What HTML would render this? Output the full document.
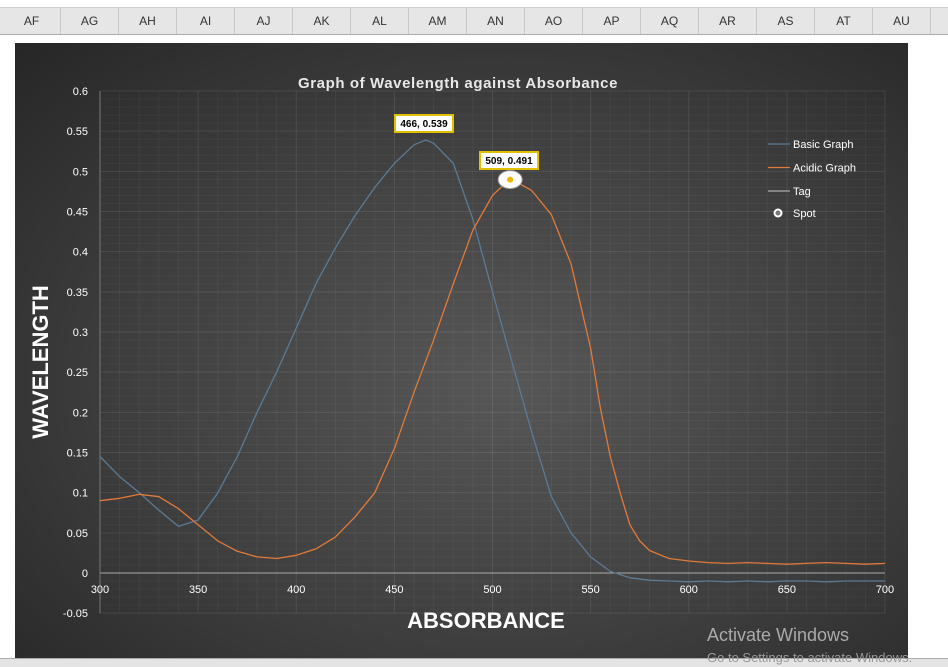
<!DOCTYPE html>
<html><head><meta charset="utf-8"><style>
body{margin:0;width:948px;height:666px;overflow:hidden;background:#fff;font-family:"Liberation Sans",sans-serif;position:relative}
.hdr{position:absolute;left:0;top:7px;width:948px;height:26px;background:#e6e6e6;border-top:1px solid #d0d0d0;border-bottom:1px solid #ababab}
.col{position:absolute;top:0;height:26px;line-height:26px;text-align:center;font-size:12px;color:#333;border-right:1px solid #c8c8c8}
.chart{position:absolute;left:15px;top:43px;width:893px;height:615px;background:radial-gradient(ellipse at 55% 55%,#575757 0%,#3e3e3e 55%,#262626 100%)}
.bot{position:absolute;left:0;top:658px;width:948px;height:8px;background:#e4e4e4;border-top:1px solid #aaa}
</style></head><body>
<div class="hdr" id="hdr"></div>
<div class="chart"></div>
<div class="bot"></div>
<svg width="948" height="666" style="position:absolute;left:0;top:0" id="svg"></svg>
<script>
const cols=["AF","AG","AH","AI","AJ","AK","AL","AM","AN","AO","AP","AQ","AR","AS","AT","AU"];
const xTicks=[300,350,400,450,500,550,600,650,700];
const yTicks=[-0.05,0,0.05,0.1,0.15,0.2,0.25,0.3,0.35,0.4,0.45,0.5,0.55,0.6];
const wl=[300,310,320,330,340,350,360,370,380,390,400,410,420,430,440,450,460,466,470,480,490,500,510,520,530,540,550,560,570,580,590,600,610,620,630,640,650,660,670,680,690,700];
const basic=[0.145,0.12,0.1,0.078,0.058,0.066,0.1,0.145,0.2,0.25,0.305,0.36,0.405,0.445,0.48,0.51,0.533,0.539,0.535,0.51,0.44,0.35,0.262,0.175,0.095,0.05,0.02,0.002,-0.006,-0.009,-0.01,-0.011,-0.01,-0.011,-0.01,-0.011,-0.01,-0.01,-0.011,-0.01,-0.01,-0.01];
const awl=[300,310,320,330,340,350,360,370,380,390,400,410,420,430,440,450,460,470,480,490,500,509,520,530,540,550,555,560,565,570,575,580,590,600,610,620,630,640,650,660,670,680,690,700];
const acidic=[0.09,0.093,0.098,0.095,0.08,0.06,0.04,0.027,0.02,0.018,0.022,0.03,0.045,0.07,0.1,0.155,0.225,0.29,0.36,0.427,0.47,0.491,0.476,0.446,0.385,0.28,0.205,0.145,0.1,0.06,0.04,0.028,0.018,0.015,0.013,0.012,0.013,0.012,0.011,0.012,0.013,0.012,0.011,0.012];
const X=v=>100+(v-300)*785/400;
const Y=v=>573-v*803.3;
const hdr=document.getElementById('hdr');
cols.forEach((c,i)=>{const d=document.createElement('div');d.className='col';d.style.left=(3+i*58)+'px';d.style.width='57px';d.textContent=c;


hdr.appendChild(d);});
const svg=document.getElementById('svg');const NS='http://www.w3.org/2000/svg';
function el(t,a,txt){const e=document.createElementNS(NS,t);for(const k in a)e.setAttribute(k,a[k]);if(txt!=null)e.textContent=txt;svg.appendChild(e);return e;}
for(let v=300;v<=700;v+=10){const g=el('line',{x1:X(v),x2:X(v),y1:Y(0.6),y2:Y(-0.05),stroke:'#fff','stroke-opacity':v%50==0?0.09:0.045});}
for(let i=-5;i<=60;i++){const v=i/100;const g=el('line',{x1:X(300),x2:X(700),y1:Y(v),y2:Y(v),stroke:'#fff','stroke-opacity':i%5==0?0.09:0.04});}
let a=el('line',{x1:X(300),x2:X(700),y1:Y(0),y2:Y(0),stroke:'#aaa','stroke-width':1});
a=el('line',{x1:X(300),x2:X(300),y1:Y(0.6),y2:Y(-0.05),stroke:'#777'});
xTicks.forEach(v=>{const t=el('text',{x:X(v),y:Y(0)+20,fill:'#fff','font-size':11,'text-anchor':'middle'},v);});
yTicks.forEach(v=>{const t=el('text',{x:88,y:Y(v)+4,fill:'#fff','font-size':11,'text-anchor':'end'},+v.toFixed(2));});
function path(xs,ys,col,name){const d=xs.map((x,i)=>(i?'L':'M')+X(x).toFixed(1)+','+Y(ys[i]).toFixed(1)).join('');const p=el('path',{d:d,fill:'none',stroke:col,'stroke-width':1.3,'stroke-linejoin':'round'});}
path(wl,basic,'#5b7a96','basic-graph-line');
path(awl,acidic,'#e07a3a','acidic-graph-line');
let t=el('text',{x:458,y:88,fill:'#e8e8e8','font-size':15,'font-weight':'bold','text-anchor':'middle','letter-spacing':'0.6'},'Graph of Wavelength against Absorbance');
t=el('text',{x:486,y:628,fill:'#fff','font-size':22,'font-weight':'bold','text-anchor':'middle'},'ABSORBANCE');
t=el('text',{x:48,y:362,fill:'#fff','font-size':22,'font-weight':'bold','text-anchor':'middle',transform:'rotate(-90 48 362)'},'WAVELENGTH');
function lab(x,y,w,txt,name){const r=el('rect',{x:x,y:y,width:w,height:17,fill:'#fff',stroke:'#e0c000','stroke-width':2});const tt=el('text',{x:x+w/2,y:y+12,'font-size':10,'font-weight':'bold','text-anchor':'middle',fill:'#000'},txt);}
lab(395,115,58,'466, 0.539','peak-label-basic');
lab(480,152,58,'509, 0.491','peak-label-acidic');
let c=el('ellipse',{cx:X(509),cy:Y(0.491)+1,rx:12,ry:9,fill:'#fff',stroke:'#999'});
c=el('circle',{cx:X(509),cy:Y(0.491)+1,r:3,fill:'#f0b400'});
const lg=[['Basic Graph','#5b7a96'],['Acidic Graph','#e07a3a'],['Tag','#aaa']];
lg.forEach((l,i)=>{const y=144+i*23.5;let ln=el('line',{x1:768,x2:790,y1:y,y2:y,stroke:l[1],'stroke-width':1.3});let tx=el('text',{x:793,y:y+4,fill:'#fff','font-size':11},l[0]);});
c=el('circle',{cx:778,cy:213,r:4.5,fill:'#fff'});
c=el('circle',{cx:778,cy:213,r:2.5,fill:'#777'});
t=el('text',{x:793,y:217,fill:'#fff','font-size':11},'Spot');
t=el('text',{x:707,y:641,fill:'#aaa','font-size':18},'Activate Windows');
t=el('text',{x:707,y:662,fill:'#999','font-size':13},'Go to Settings to activate Windows.');
</script>
</body></html>
